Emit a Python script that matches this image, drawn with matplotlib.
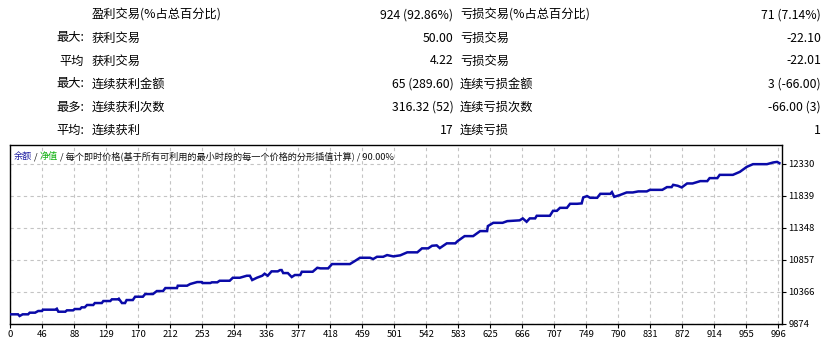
import matplotlib
matplotlib.use("Agg")
import matplotlib.pyplot as plt
import numpy as np

plt.rcParams['font.family'] = ['Noto Sans CJK SC', 'DejaVu Sans']

# ---- summary table (rows of the report) ----
row_prefix = ["", "最大:", "平均", "最大:", "最多:", "平均:"]
win_labels = ["盈利交易(%占总百分比)", "获利交易", "获利交易", "连续获利金额", "连续获利次数", "连续获利"]
win_values = ["924 (92.86%)", "50.00", "4.22", "65 (289.60)", "316.32 (52)", "17"]
loss_labels = ["亏损交易(%占总百分比)", "亏损交易", "亏损交易", "连续亏损金额", "连续亏损次数", "连续亏损"]
loss_values = ["71 (7.14%)", "-22.10", "-22.01", "3 (-66.00)", "-66.00 (3)", "1"]

# ---- balance curve (trade number, balance) ----
trade_no = [0, 10, 12, 16, 23, 25, 32, 36, 41, 42, 58, 60, 62, 71, 73, 81, 83, 90, 92, 96,
            99, 107, 109, 118, 120, 129, 131, 139, 140, 144, 148, 150, 158, 161, 171, 174,
            184, 189, 197, 200, 215, 216, 228, 232, 241, 247, 248, 258, 260, 267, 270, 283,
            287, 296, 305, 309, 312, 318, 325, 328, 332, 337, 345, 348, 350, 352, 358, 363,
            367, 374, 376, 390, 396, 400, 410, 415, 438, 445, 451, 464, 468, 473, 481, 486,
            494, 503, 512, 525, 531, 539, 544, 550, 554, 563, 574, 577, 586, 597, 606, 615,
            616, 623, 635, 641, 657, 661, 666, 670, 677, 679, 696, 700, 705, 709, 718, 722,
            731, 737, 739, 744, 748, 757, 761, 774, 776, 779, 786, 795, 803, 810, 821, 825,
            841, 847, 853, 855, 861, 866, 873, 880, 890, 899, 902, 912, 915, 932, 941, 950,
            958, 976, 984, 989, 992]
balance = [10018, 10018, 9992, 10018, 10018, 10043, 10043, 10069, 10069, 10089, 10089, 10104,
           10058, 10058, 10079, 10079, 10099, 10099, 10125, 10125, 10161, 10161, 10191, 10191,
           10222, 10222, 10248, 10248, 10257, 10191, 10191, 10237, 10237, 10288, 10288, 10329,
           10329, 10375, 10375, 10421, 10421, 10457, 10457, 10483, 10513, 10513, 10498, 10498,
           10509, 10509, 10533, 10533, 10579, 10579, 10610, 10610, 10544, 10579, 10610, 10641,
           10610, 10677, 10677, 10697, 10697, 10651, 10651, 10590, 10621, 10621, 10671, 10671,
           10732, 10723, 10723, 10789, 10789, 10840, 10886, 10886, 10866, 10901, 10901, 10927,
           10907, 10923, 10969, 10969, 11030, 11030, 11070, 11076, 11034, 11107, 11107, 11142,
           11218, 11218, 11295, 11295, 11372, 11422, 11422, 11448, 11460, 11490, 11438, 11490,
           11490, 11530, 11530, 11606, 11606, 11652, 11652, 11714, 11714, 11720, 11812, 11832,
           11806, 11806, 11867, 11867, 11893, 11821, 11847, 11888, 11888, 11904, 11904, 11928,
           11928, 11970, 11970, 12005, 11990, 11965, 12026, 12026, 12062, 12062, 12108, 12108,
           12158, 12158, 12204, 12281, 12322, 12322, 12348, 12357, 12338]

x_tick_labels = ["0", "46", "88", "129", "170", "212", "253", "294", "336", "377", "418", "459",
                 "501", "542", "583", "625", "666", "707", "749", "790", "831", "872", "914",
                 "955", "996"]
y_ticks = [9874, 10366, 10857, 11348, 11839, 12330]
total_trades = 995

W, H = 825, 339
fig = plt.figure(figsize=(W / 100, H / 100), dpi=100)
fig.patch.set_facecolor('white')

def fx(px):
    return px / W

def fy(py):
    return 1 - py / H

# ---- table ----
row_y = [15, 38, 61, 84, 107, 130]
tcol = '#000000'
fs = 8.8
for i, yy in enumerate(row_y):
    if row_prefix[i]:
        fig.text(fx(84), fy(yy), row_prefix[i], ha='right', va='center', fontsize=fs, color=tcol)
    fig.text(fx(91.5), fy(yy), win_labels[i], ha='left', va='center', fontsize=fs, color=tcol)
    fig.text(fx(453.5), fy(yy), win_values[i], ha='right', va='center', fontsize=fs, color=tcol)
    fig.text(fx(460), fy(yy), loss_labels[i], ha='left', va='center', fontsize=fs, color=tcol)
    fig.text(fx(821), fy(yy), loss_values[i], ha='right', va='center', fontsize=fs, color=tcol)

# ---- chart ----
left, right, top, bottom = 10.3, 781.7, 145, 323.7
ax = fig.add_axes([fx(left), fy(bottom), (right - left) / W, (bottom - top) / H])
ax.set_facecolor('white')

ax.plot(trade_no, balance, color='#0a0aa8', linewidth=1.8, solid_joinstyle='miter', zorder=3)

ax.set_xlim(0, total_trades)
ymin = y_ticks[0]
step = (y_ticks[-1] - y_ticks[0]) / (len(y_ticks) - 1)
ax.set_ylim(ymin, y_ticks[-1] + step * 18.7 / 32.1)

tick_step = total_trades * 32 / (right - left)
xt = np.arange(len(x_tick_labels)) * tick_step
ax.set_xticks(xt)
ax.set_xticklabels(x_tick_labels)
ax.set_yticks(y_ticks)
ax.set_yticklabels([str(v) for v in y_ticks])
ax.yaxis.tick_right()

ax.tick_params(axis='x', direction='out', length=3, width=0.8, labelsize=6.8, pad=1.5, colors='#000000')
ax.tick_params(axis='y', direction='out', length=3, width=0.8, labelsize=6.8, pad=2, colors='#000000')

ax.grid(True, color='#c4c4c4', linestyle=(0, (3, 3)), linewidth=0.8)
for sp in ax.spines.values():
    sp.set_color('black')
    sp.set_linewidth(1.0)

# ---- chart header ----
t1 = ax.text(0.005, 0.935, "余额", transform=ax.transAxes, fontsize=6.6, color='#1a1aa0',
             ha='left', va='center')
t2 = ax.annotate(" / ", xy=(1, 0), xycoords=t1, fontsize=6.6, color='#111111', va='bottom')
t3 = ax.annotate("净值", xy=(1, 0), xycoords=t2, fontsize=6.6, color='#10b010', va='bottom')
t4 = ax.annotate(" / 每个即时价格(基于所有可利用的最小时段的每一个价格的分形插值计算) / 90.00%",
                 xy=(1, 0), xycoords=t3, fontsize=6.6, color='#111111', va='bottom')

fig.savefig("out.png", dpi=100)
